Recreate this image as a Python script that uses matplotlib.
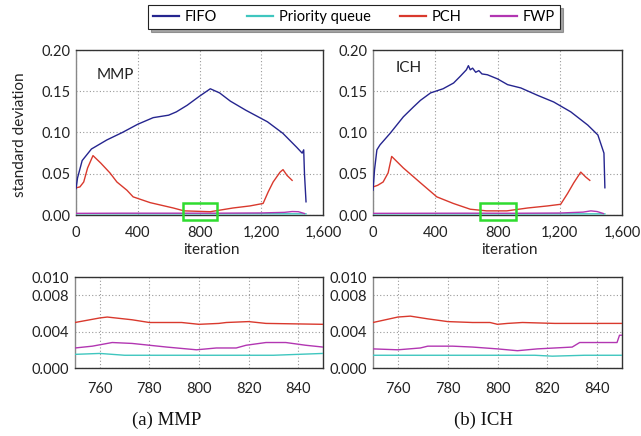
import matplotlib
matplotlib.use('Agg')
import matplotlib.pyplot as plt
from matplotlib.patches import Rectangle
from matplotlib.ticker import FuncFormatter

plt.rcParams['font.family'] = ['Lato', 'DejaVu Sans']

series_names = ['FIFO', 'Priority queue', 'PCH', 'FWP']
colors = ['#25258f', '#3fc6bf', '#d9392d', '#b236b2']

# ---------------- overview data (MMP) ----------------
mmp_fifo_x = [0, 10, 40, 100, 200, 300, 400, 500, 600, 650, 720, 800, 870, 930,
              1000, 1100, 1240, 1340, 1430, 1465, 1475, 1480, 1490]
mmp_fifo_y = [0.032, 0.045, 0.066, 0.080, 0.091, 0.100, 0.110, 0.118, 0.121, 0.125,
              0.133, 0.144, 0.153, 0.148, 0.138, 0.127, 0.113, 0.099, 0.082, 0.075,
              0.079, 0.050, 0.016]
mmp_pch_x = [0, 25, 50, 75, 110, 160, 220, 265, 330, 370, 480, 630, 700, 870, 1017,
             1127, 1212, 1245, 1277, 1322, 1341, 1367, 1400]
mmp_pch_y = [0.033, 0.034, 0.040, 0.057, 0.072, 0.063, 0.051, 0.040, 0.030, 0.022,
             0.015, 0.0085, 0.005, 0.004, 0.0085, 0.011, 0.014, 0.028, 0.040, 0.052,
             0.055, 0.048, 0.042]
mmp_pq_x = [0, 400, 800, 1200, 1490]
mmp_pq_y = [0.0015, 0.0014, 0.0014, 0.0015, 0.0014]
mmp_fwp_x = [0, 300, 600, 900, 1200, 1350, 1400, 1440, 1480]
mmp_fwp_y = [0.0020, 0.0022, 0.0022, 0.0022, 0.0025, 0.0032, 0.0042, 0.0040, 0.0018]

# ---------------- overview data (ICH) ----------------
ich_fifo_x = [0, 10, 25, 45, 110, 195, 260, 305, 370, 450, 518, 560, 580, 600, 613,
              625, 640, 660, 680, 700, 735, 800, 865, 950, 1058, 1161, 1271, 1380,
              1445, 1484, 1490]
ich_fifo_y = [0.030, 0.055, 0.079, 0.085, 0.099, 0.119, 0.131, 0.139, 0.148, 0.153,
              0.160, 0.168, 0.172, 0.176, 0.181, 0.176, 0.178, 0.173, 0.175, 0.171,
              0.170, 0.165, 0.158, 0.154, 0.145, 0.137, 0.125, 0.109, 0.097, 0.075,
              0.033]
ich_pch_x = [0, 30, 65, 97, 120, 195, 305, 410, 516, 625, 730, 860, 994, 1122, 1206,
             1250, 1290, 1335, 1367, 1393]
ich_pch_y = [0.034, 0.036, 0.040, 0.051, 0.071, 0.057, 0.039, 0.022, 0.014, 0.007,
             0.005, 0.005, 0.0085, 0.011, 0.013, 0.026, 0.039, 0.052, 0.046, 0.042]
ich_pq_x = [0, 400, 800, 1200, 1490]
ich_pq_y = [0.0014, 0.0014, 0.0013, 0.0014, 0.0014]
ich_fwp_x = [0, 300, 600, 900, 1200, 1350, 1400, 1440, 1480]
ich_fwp_y = [0.0020, 0.0021, 0.0022, 0.0021, 0.0024, 0.0035, 0.0050, 0.0042, 0.0018]

# ---------------- zoom data (MMP) ----------------
mmp_z_pch_x = [750, 760, 763, 773, 780, 793, 800, 808, 811, 820, 827, 850]
mmp_z_pch_y = [0.0050, 0.0055, 0.0056, 0.0053, 0.0050, 0.0050, 0.0048, 0.0049,
               0.0050, 0.0051, 0.0049, 0.0048]
mmp_z_fwp_x = [750, 757, 765, 773, 780, 787, 799, 807, 815, 819, 827, 835, 843, 850]
mmp_z_fwp_y = [0.0022, 0.0024, 0.0028, 0.0027, 0.0025, 0.0023, 0.0020, 0.0022,
               0.0022, 0.0025, 0.0028, 0.0028, 0.0025, 0.0023]
mmp_z_pq_x = [750, 760, 770, 800, 830, 850]
mmp_z_pq_y = [0.0015, 0.0016, 0.0014, 0.0014, 0.0014, 0.0016]

# ---------------- zoom data (ICH) ----------------
ich_z_pch_x = [750, 760, 765, 772, 780, 790, 797, 800, 804, 810, 823, 850]
ich_z_pch_y = [0.0050, 0.0056, 0.0057, 0.0054, 0.0051, 0.0050, 0.0050, 0.0048,
               0.0049, 0.0050, 0.0049, 0.0049]
ich_z_fwp_x = [750, 760, 769, 772, 782, 790, 800, 804, 808, 816, 823, 830, 833, 842,
               848, 849, 850]
ich_z_fwp_y = [0.0021, 0.0020, 0.0022, 0.0024, 0.0024, 0.0023, 0.0021, 0.0020,
               0.0019, 0.0021, 0.0022, 0.0023, 0.0028, 0.0028, 0.0028, 0.0036, 0.0036]
ich_z_pq_x = [750, 780, 800, 815, 822, 835, 850]
ich_z_pq_y = [0.0014, 0.0014, 0.0014, 0.0014, 0.0013, 0.0014, 0.0014]

top_xticks = [0, 400, 800, 1200, 1600]
top_yticks = [0.00, 0.05, 0.10, 0.15, 0.20]
bot_xticks = [760, 780, 800, 820, 840]
bot_yticks = [0.000, 0.004, 0.008, 0.010]
zoom_box = (690, 916)

W, H = 641, 436
fig = plt.figure(figsize=(W / 100, H / 100), dpi=100)


def fx(px):
    return px / W


def fy(py):
    return 1 - py / H


ax_tl = fig.add_axes([fx(76), fy(215), fx(247), 165 / H])
ax_tr = fig.add_axes([fx(373), fy(215), fx(249), 165 / H])
ax_bl = fig.add_axes([fx(75), fy(368), fx(248), 91 / H])
ax_br = fig.add_axes([fx(373), fy(368), fx(249), 91 / H])

spine_c = '#333333'
grid_c = '#9a9a9a'


def style(ax, xticks, yticks, xlim, ylim, yfmt, xfmt, xpad):
    ax.set_xlim(*xlim)
    ax.set_ylim(*ylim)
    ax.set_xticks(xticks)
    ax.set_yticks(yticks)
    ax.xaxis.set_major_formatter(FuncFormatter(xfmt))
    ax.yaxis.set_major_formatter(FuncFormatter(yfmt))
    ax.tick_params(axis='both', length=0, labelsize=10.5, colors='#222222')
    ax.tick_params(axis='x', pad=xpad)
    ax.tick_params(axis='y', pad=4)
    ax.grid(True, linestyle=(0, (1, 2)), color=grid_c, linewidth=0.8)
    for s in ax.spines.values():
        s.set_color(spine_c)
        s.set_linewidth(1.0)
    ax.spines['left'].set_color('#888888')


def draw_top(ax, data):
    fifo, pq, pch, fwp = data
    ax.plot(*pq, color=colors[1], lw=1.0, zorder=3)
    ax.plot(*fwp, color=colors[3], lw=1.0, zorder=3)
    ax.plot(*pch, color=colors[2], lw=1.0, zorder=3)
    ax.plot(*fifo, color=colors[0], lw=1.0, zorder=4)
    style(ax, top_xticks, top_yticks, (0, 1600), (0, 0.20),
          lambda v, p: f'{v:.2f}', lambda v, p: f'{v:,.0f}', 8)
    ax.add_patch(Rectangle((zoom_box[0], -0.006), zoom_box[1] - zoom_box[0], 0.0205,
                           fill=False, edgecolor='#2fdc2f', lw=1.8, clip_on=False,
                           zorder=5))
    ax.text(0.547, -0.21, 'iteration', transform=ax.transAxes, ha='center',
            va='center', fontsize=11, color='#222222')


draw_top(ax_tl, ((mmp_fifo_x, mmp_fifo_y), (mmp_pq_x, mmp_pq_y),
                 (mmp_pch_x, mmp_pch_y), (mmp_fwp_x, mmp_fwp_y)))
draw_top(ax_tr, ((ich_fifo_x, ich_fifo_y), (ich_pq_x, ich_pq_y),
                 (ich_pch_x, ich_pch_y), (ich_fwp_x, ich_fwp_y)))
ax_tl.text(0.085, 0.85, 'MMP', transform=ax_tl.transAxes, fontsize=11,
           va='center', ha='left', color='#222222')
ax_tr.text(0.09, 0.89, 'ICH', transform=ax_tr.transAxes, fontsize=11,
           va='center', ha='left', color='#222222')


def draw_bot(ax, pq, pch, fwp):
    ax.plot(*pq, color=colors[1], lw=1.0, zorder=3)
    ax.plot(*fwp, color=colors[3], lw=1.0, zorder=3)
    ax.plot(*pch, color=colors[2], lw=1.0, zorder=3)
    style(ax, bot_xticks, bot_yticks, (750, 850), (0, 0.010),
          lambda v, p: f'{v:.3f}', lambda v, p: f'{v:.0f}', 10)


draw_bot(ax_bl, (mmp_z_pq_x, mmp_z_pq_y), (mmp_z_pch_x, mmp_z_pch_y),
         (mmp_z_fwp_x, mmp_z_fwp_y))
draw_bot(ax_br, (ich_z_pq_x, ich_z_pq_y), (ich_z_pch_x, ich_z_pch_y),
         (ich_z_fwp_x, ich_z_fwp_y))

fig.text(fx(20), fy(135), 'standard deviation', rotation=90, ha='center',
         va='center', fontsize=11, color='#222222')

fig.text(fx(167), fy(420), '(a) MMP', ha='center', va='center', fontsize=13.5,
         family=['Liberation Serif', 'DejaVu Serif'], color='#111111')
fig.text(fx(483), fy(420), '(b) ICH', ha='center', va='center', fontsize=13.5,
         family=['Liberation Serif', 'DejaVu Serif'], color='#111111')

handles = [plt.Line2D([], [], color=c, lw=1.6) for c in colors]
leg = fig.legend(handles, series_names, loc='center', bbox_to_anchor=(fx(354), fy(17)),
                 ncol=4, fontsize=10.5, frameon=True, fancybox=False, shadow=True,
                 edgecolor='#222222', handlelength=1.8, handletextpad=0.4,
                 columnspacing=2.0, borderpad=0.35)
leg.get_frame().set_linewidth(0.8)

fig.savefig('out.png', dpi=100)
